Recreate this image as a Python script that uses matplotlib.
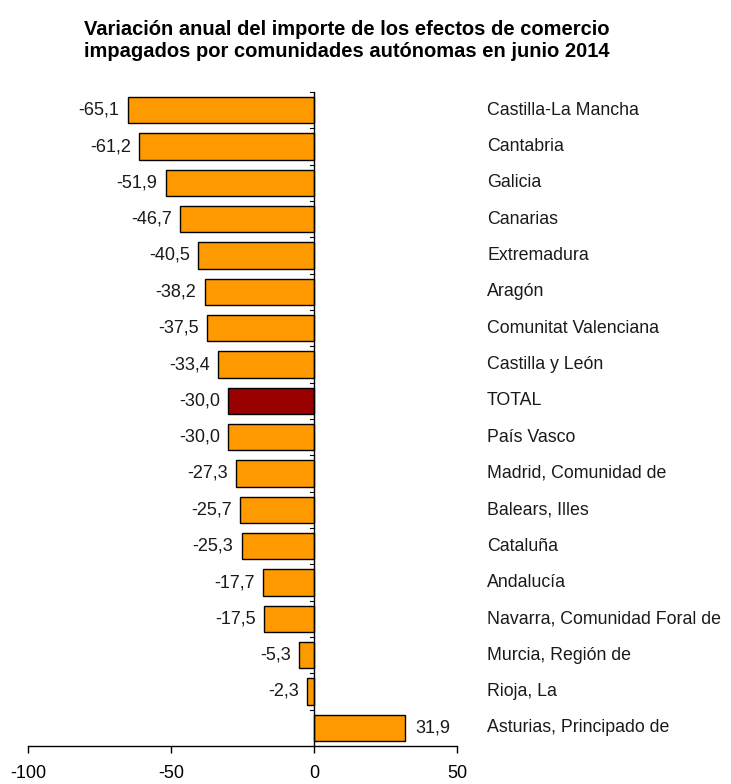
import matplotlib
matplotlib.use('Agg')
import matplotlib.pyplot as plt
import matplotlib.transforms as mtransforms

plt.rcParams['font.family'] = ['Liberation Sans', 'DejaVu Sans']

# Data
regions = [
    'Castilla-La Mancha', 'Cantabria', 'Galicia', 'Canarias', 'Extremadura',
    'Aragón', 'Comunitat Valenciana', 'Castilla y León', 'TOTAL', 'País Vasco',
    'Madrid, Comunidad de', 'Balears, Illes', 'Cataluña', 'Andalucía',
    'Navarra, Comunidad Foral de', 'Murcia, Región de', 'Rioja, La',
    'Asturias, Principado de',
]
values = [-65.1, -61.2, -51.9, -46.7, -40.5, -38.2, -37.5, -33.4, -30.0, -30.0,
          -27.3, -25.7, -25.3, -17.7, -17.5, -5.3, -2.3, 31.9]
x_ticks = [-100, -50, 0, 50]

title = ('Variación anual del importe de los efectos de comercio\n'
         'impagados por comunidades autónomas en junio 2014')

fig = plt.figure(figsize=(7.31, 7.84), dpi=100)
ax = fig.add_axes([28 / 731, 38 / 784, (457 - 28) / 731, (746 - 92) / 784])

colors = ['#990000' if r == 'TOTAL' else '#FF9900' for r in regions]
pos = list(range(len(regions)))
ax.barh(pos, values, height=0.72, color=colors, edgecolor='black', linewidth=1.0)

ax.set_xlim(-100, 50)
ax.set_ylim(len(regions) - 0.5, -0.5)

# value labels
for y, v in zip(pos, values):
    txt = f'{v:.1f}'.replace('.', ',')
    if v < 0:
        ax.annotate(txt, (v, y), xytext=(-6, 0), textcoords='offset points',
                    ha='right', va='center', fontsize=13, color='#1a1a1a')
    else:
        ax.annotate(txt, (v, y), xytext=(7, 0), textcoords='offset points',
                    ha='left', va='center', fontsize=13, color='#1a1a1a')

# category labels to the right of the plot
trans = mtransforms.blended_transform_factory(ax.transAxes, ax.transData)
for y, r in zip(pos, regions):
    ax.text(1.07, y, r, transform=trans, ha='left', va='center',
            fontsize=12.8, color='#1a1a1a', clip_on=False)

# spines: only bottom axis and a vertical axis at zero
for s in ['top', 'right', 'left']:
    ax.spines[s].set_visible(False)
ax.spines['bottom'].set_linewidth(1.0)
ax.axvline(0, color='black', linewidth=1.0)
# small ticks on the zero line between categories
for b in [p + 0.5 for p in pos[:-1]] + [-0.5]:
    ax.plot([-1.3, 0], [b, b], color='black', linewidth=0.8, clip_on=False)

ax.set_yticks([])
ax.set_xticks(x_ticks)
ax.set_xticklabels([str(t) for t in x_ticks], fontsize=13)
ax.tick_params(axis='x', direction='out', length=5, width=1.0, pad=9)

fig.text(0.475, 0.975, title, ha='center', va='top', fontsize=14.5,
         fontweight='bold', linespacing=1.2)

fig.savefig('out.png', dpi=100)
